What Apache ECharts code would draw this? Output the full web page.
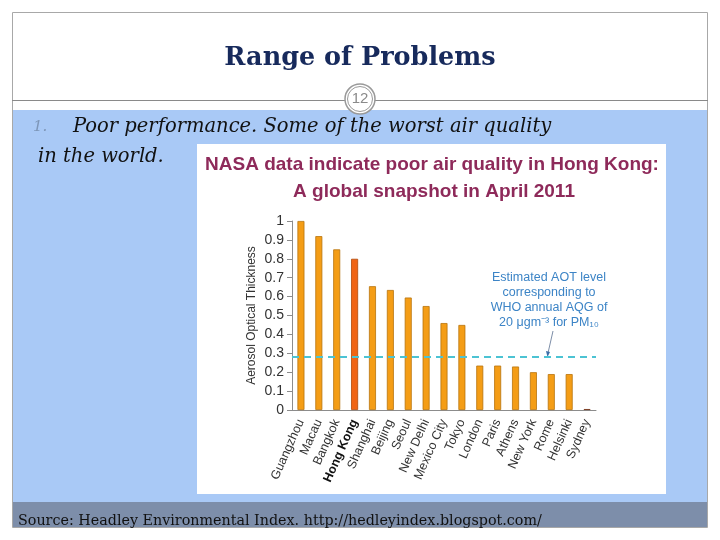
<!DOCTYPE html>
<html>
<head>
<meta charset="utf-8">
<script src="https://cdn.jsdelivr.net/npm/echarts@6/dist/echarts.min.js"></script>
<style>
html,body{margin:0;padding:0;background:#fff;}
#main{width:720px;height:540px;}
</style>
</head>
<body>
<div id="main"></div>
<script>
const cities = ['Guangzhou','Macau','Bangkok','Hong Kong','Shanghai','Beijing','Seoul','New Delhi','Mexico City','Tokyo','London','Paris','Athens','New York','Rome','Helsinki','Sydney'];
const aot = [1.0, 0.92, 0.85, 0.80, 0.655, 0.635, 0.595, 0.55, 0.46, 0.45, 0.235, 0.235, 0.23, 0.20, 0.19, 0.19, 0.005];
const whoLevel = 0.275;
const yTicks = ['0','0.1','0.2','0.3','0.4','0.5','0.6','0.7','0.8','0.9','1'];
const highlightCity = 'Hong Kong';
const noteLines = ['Estimated AOT level','corresponding to','WHO annual AQG of','20 μgm⁻³ for PM₁₀'];

const chart = echarts.init(document.getElementById('main'), null, {renderer:'canvas'});

const barData = aot.map((v, i) => {
  let c = '#F49D16', b = '#B8730C';
  if (cities[i] === highlightCity) { c = '#F06414'; b = '#B04808'; }
  if (cities[i] === 'Sydney') { c = '#9A5030'; b = '#7A3A20'; }
  return { value: v, itemStyle: { color: c, borderColor: b, borderWidth: 0.8 } };
});

const graphics = [
  { type:'rect', z:-10, shape:{x:12,y:110,width:696,height:392}, style:{fill:'#A9C9F6'} },
  { type:'rect', z:-10, shape:{x:12,y:502,width:696,height:25}, style:{fill:'#7D8EAA'} },
  { type:'rect', z:-9, shape:{x:12.5,y:12.5,width:695,height:515}, style:{fill:'none',stroke:'#A8A8A8',lineWidth:1} },
  { type:'line', z:-9, shape:{x1:12,y1:100.5,x2:708,y2:100.5}, style:{stroke:'#8A8A8A',lineWidth:1} },
  { type:'circle', z:-5, shape:{cx:360,cy:99,r:15}, style:{fill:'#fff',stroke:'#9A9A9A',lineWidth:1.5} },
  { type:'circle', z:-5, shape:{cx:360,cy:99,r:12.5}, style:{fill:'#fff',stroke:'#9A9A9A',lineWidth:1} },
  { type:'text', z:-4, style:{x:360,y:99,text:'12',fill:'#8A8A8A',font:'15px "Liberation Sans", Arial, sans-serif',align:'center',verticalAlign:'middle'} },
  { type:'text', style:{x:360,y:58,text:'Range of Problems',fill:'#172A5C',font:'bold 25.5px "DejaVu Serif", Georgia, serif',align:'center',verticalAlign:'middle'} },
  { type:'text', style:{x:33,y:127,text:'1.',fill:'#7D96B8',font:'italic 15px "DejaVu Serif", Georgia, serif',align:'left',verticalAlign:'middle'} },
  { type:'text', style:{x:73,y:127,text:'Poor performance. Some of the worst air quality',fill:'#111',font:'italic 19.5px "DejaVu Serif", Georgia, serif',align:'left',verticalAlign:'middle'} },
  { type:'text', style:{x:38,y:157,text:'in the world.',fill:'#111',font:'italic 19.5px "DejaVu Serif", Georgia, serif',align:'left',verticalAlign:'middle'} },
  { type:'text', style:{x:18,y:521,text:'Source: Headley Environmental Index. http://hedleyindex.blogspot.com/',fill:'#111',font:'14.3px "DejaVu Serif", Georgia, serif',align:'left',verticalAlign:'middle'} },
  { type:'rect', z:-8, shape:{x:197,y:144,width:469,height:350}, style:{fill:'#fff'} },
  { type:'text', style:{x:432,y:165,text:'NASA data indicate poor air quality in Hong Kong:',fill:'#8E2A5A',font:'bold 19px "Liberation Sans", Arial, sans-serif',align:'center',verticalAlign:'middle'} },
  { type:'text', style:{x:434,y:192,text:'A global snapshot in April 2011',fill:'#8E2A5A',font:'bold 19px "Liberation Sans", Arial, sans-serif',align:'center',verticalAlign:'middle'} },
  { type:'line', shape:{x1:553,y1:331,x2:548,y2:353}, style:{stroke:'#5A7090',lineWidth:0.8} },
  { type:'polygon', shape:{points:[[546,351],[550,352],[547.5,357]]}, style:{fill:'#3B6EA8'} }
];
noteLines.forEach((t, i) => {
  graphics.push({ type:'text', style:{x:549,y:278 + i*14.7,text:t,fill:'#3C84C6',font:'12.5px "Liberation Sans", Arial, sans-serif',align:'center',verticalAlign:'middle'} });
});

chart.setOption({
  animation:false,
  backgroundColor:'#fff',
  graphic: graphics,
  grid:{ left:292, width:304, top:221, height:189, containLabel:false },
  xAxis:{
    type:'category',
    data: cities,
    boundaryGap:true,
    axisLine:{ show:true, lineStyle:{ color:'#8C8C8C', width:1 } },
    axisTick:{ show:false },
    axisLabel:{
      interval:0, rotate:66, margin:10, color:'#333', fontSize:12.5,
      fontFamily:'"Liberation Sans", Arial, sans-serif',
      formatter: v => v === highlightCity ? '{b|' + v + '}' : v,
      rich:{ b:{ fontWeight:'bold', color:'#111', fontSize:12.5, fontFamily:'"Liberation Sans", Arial, sans-serif' } }
    }
  },
  yAxis:{
    type:'value', min:0, max:1, interval:0.1,
    name:'Aerosol Optical Thickness', nameLocation:'middle', nameRotate:90, nameGap:34,
    nameTextStyle:{ color:'#333', fontSize:12, fontFamily:'"Liberation Sans", Arial, sans-serif' },
    axisLine:{ show:true, lineStyle:{ color:'#8C8C8C', width:1 } },
    axisTick:{ show:true, length:5, lineStyle:{ color:'#8C8C8C' } },
    splitLine:{ show:false },
    axisLabel:{ color:'#333', fontSize:14, margin:8, fontFamily:'"Liberation Sans", Arial, sans-serif',
      formatter: (v) => yTicks[Math.round(v*10)] }
  },
  series:[{
    type:'bar',
    data: barData,
    barWidth:7,
    markLine:{
      silent:true,
      symbol:['none','none'],
      label:{ show:false },
      lineStyle:{ color:'#4CC3D3', type:[7,5], width:2 },
      data:[{ yAxis: whoLevel }]
    }
  }]
});
</script>
</body>
</html>
